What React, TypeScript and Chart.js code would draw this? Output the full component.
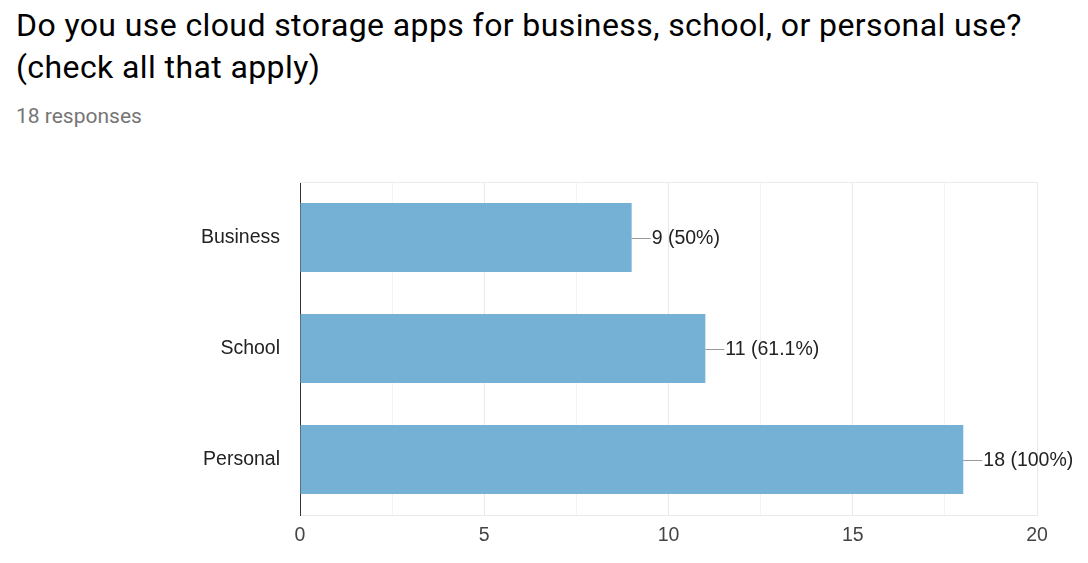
import React, { useEffect, useRef } from "react";
import { Chart, registerables } from "chart.js";

Chart.register(...registerables);

const TITLE_LINE_1 = "Do you use cloud storage apps for business, school, or personal use?";
const TITLE_LINE_2 = "(check all that apply)";
const SUBTITLE = "18 responses";
const categories = ["Business", "School", "Personal"];
const counts = [9, 11, 18];
const percentLabels = ["50%", "61.1%", "100%"];
const xTickValues = [0, 5, 10, 15, 20];

const FONT = "'Liberation Sans', Arial, sans-serif";

const labelPlugin = {
  id: "leaderLabels",
  afterDatasetsDraw(chart: any) {
    const { ctx, chartArea } = chart;
    ctx.save();
    ctx.strokeStyle = "#ebebeb";
    ctx.lineWidth = 1;
    ctx.beginPath();
    ctx.moveTo(chartArea.left, Math.round(chartArea.top) + 0.5);
    ctx.lineTo(chartArea.right, Math.round(chartArea.top) + 0.5);
    ctx.stroke();
    const meta = chart.getDatasetMeta(0);
    meta.data.forEach((bar: any, i: number) => {
      const x = bar.x;
      const y = Math.round(bar.y) + 0.5;
      ctx.strokeStyle = "#999999";
      ctx.lineWidth = 1;
      ctx.beginPath();
      ctx.moveTo(x, y);
      ctx.lineTo(x + 19, y);
      ctx.stroke();
      ctx.fillStyle = "#222222";
      ctx.font = `19.5px ${FONT}`;
      ctx.textBaseline = "middle";
      ctx.textAlign = "left";
      ctx.fillText(`${counts[i]} (${percentLabels[i]})`, x + 20, bar.y + 1);
    });
    ctx.restore();
  },
};

export default function App() {
  const ref = useRef<HTMLCanvasElement>(null);
  useEffect(() => {
    if (!ref.current) return;
    const chart = new Chart(ref.current, {
      type: "bar",
      data: {
        labels: categories,
        datasets: [
          {
            data: counts,
            backgroundColor: "#74b1d5",
            borderWidth: 0,
            barPercentage: 0.62,
            categoryPercentage: 1,
          },
        ],
      },
      options: {
        indexAxis: "y",
        animation: false,
        responsive: false,
        maintainAspectRatio: false,
        layout: { padding: { top: 182, right: 51, bottom: 0, left: 0 } },
        plugins: { legend: { display: false }, tooltip: { enabled: false }, title: { display: false } },
        scales: {
          x: {
            min: 0,
            max: 20,
            afterBuildTicks(scale: any) {
              const t: any[] = [];
              for (let v = 0; v <= 20; v += 2.5) t.push({ value: v });
              scale.ticks = t;
            },
            afterFit(scale: any) {
              scale.height = 48;
            },
            ticks: {
              autoSkip: false,
              maxRotation: 0,
              padding: 9,
              color: "#444444",
              font: { family: FONT, size: 19.5 },
              callback: (v: any) => (xTickValues.includes(Number(v)) ? String(v) : ""),
            },
            grid: {
              drawTicks: false,
              color: (c: any) => {
                const v = c.tick ? c.tick.value : 0;
                return v % 5 === 0 ? "#e9e9e9" : "#f3f3f3";
              },
              lineWidth: 1,
            },
            border: { display: true, color: "#e9e9e9" },
          },
          y: {
            afterFit(scale: any) {
              scale.width = 300;
            },
            ticks: {
              padding: 20,
              color: "#222222",
              font: { family: FONT, size: 19.5 },
            },
            grid: { display: false, drawTicks: false },
            border: { display: true, color: "#333333", width: 1 },
          },
        },
      },
      plugins: [labelPlugin],
    });
    return () => chart.destroy();
  }, []);

  return (
    <div style={{ position: "absolute", left: 0, top: 0, width: 1088, height: 563, background: "#fff", overflow: "hidden" }}>
      <div style={{ position: "absolute", left: 16, top: 4, fontFamily: "Roboto, sans-serif", fontSize: 32, letterSpacing: "0.4px", lineHeight: "42px", color: "#000", whiteSpace: "nowrap" }}>
        {TITLE_LINE_1}
        <br />
        {TITLE_LINE_2}
      </div>
      <div style={{ position: "absolute", left: 16, top: 104, fontFamily: "Roboto, sans-serif", fontSize: 21, lineHeight: "24px", color: "#757575", whiteSpace: "nowrap" }}>
        {SUBTITLE}
      </div>
      <canvas ref={ref} width={1088} height={563} style={{ position: "absolute", left: 0, top: 0 }} />
    </div>
  );
}
